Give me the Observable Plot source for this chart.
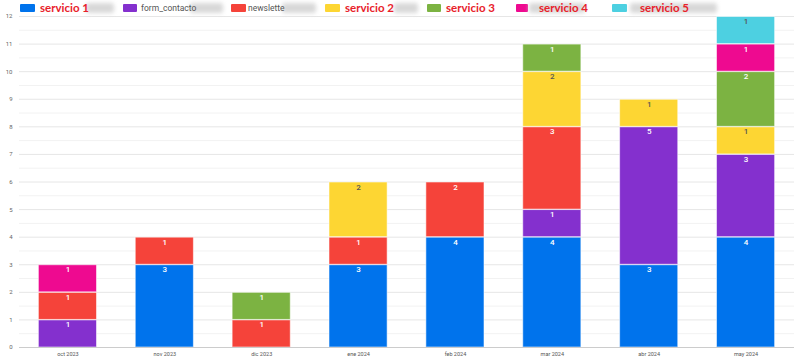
<!DOCTYPE html>
<html>
<head>
<meta charset="utf-8">
<script src="https://cdn.jsdelivr.net/npm/d3@7"></script>
<script src="https://cdn.jsdelivr.net/npm/@observablehq/plot@0.6"></script>
<style>
  html, body { margin: 0; padding: 0; background: #fff; }
  #wrap { position: relative; width: 799px; height: 364px; overflow: hidden; }
  #legend { position: absolute; left: 0; top: 0; width: 799px; height: 16px; }
  .sw { position: absolute; top: 4px; height: 8px; border-radius: 1px; }
  .blur { position: absolute; top: 3px; height: 10px; background: #d8d8d8; filter: blur(2px); border-radius: 3px; }
  .lbl-red { position: absolute; top: 0px; font-family: Lato, sans-serif; font-weight: 700; font-size: 11.5px; color: #e8212b; line-height: 16px; white-space: nowrap; }
  .lbl-grey { position: absolute; top: 1px; font-family: Roboto, sans-serif; font-size: 8.5px; color: #555; line-height: 14px; white-space: nowrap; }
</style>
</head>
<body>
<div id="wrap">
  <div id="chart"></div>
  <div id="legend"></div>
</div>
<script>
const months = ["oct 2023", "nov 2023", "dic 2023", "ene 2024", "feb 2024", "mar 2024", "abr 2024", "may 2024"];
const seriesNames = ["servicio 1", "form_contacto", "newsletter", "servicio 2", "servicio 3", "servicio 4", "servicio 5"];
const seriesColors = ["#0073ec", "#8430ce", "#f5433a", "#fdd633", "#7cb342", "#ee0a90", "#4dd0e1"];
const labelColors = ["#ffffff", "#ffffff", "#ffffff", "#555555", "#ffffff", "#ffffff", "#555555"];
// values per series, one per month
const servicio1    = [0, 3, 0, 3, 4, 4, 3, 4];
const formContacto = [1, 0, 0, 0, 0, 1, 5, 3];
const newsletter   = [1, 1, 1, 1, 2, 3, 0, 0];
const servicio2    = [0, 0, 0, 2, 0, 2, 1, 1];
const servicio3    = [0, 0, 1, 0, 0, 1, 0, 2];
const servicio4    = [1, 0, 0, 0, 0, 0, 0, 1];
const servicio5    = [0, 0, 0, 0, 0, 0, 0, 1];
const yTicks = [0,1,2,3,4,5,6,7,8,9,10,11,12];

const allSeries = [servicio1, formContacto, newsletter, servicio2, servicio3, servicio4, servicio5];
const data = [];
allSeries.forEach((vals, si) => {
  vals.forEach((v, mi) => {
    if (v > 0) data.push({month: months[mi], series: seriesNames[si], value: v});
  });
});
const labelColorOf = Object.fromEntries(seriesNames.map((s, i) => [s, labelColors[i]]));

const halfTicks = d3.range(0, 12.01, 0.5).filter(v => v % 1 !== 0);

const chart = Plot.plot({
  width: 799,
  height: 364,
  marginTop: 16,
  marginBottom: 17,
  marginLeft: 19,
  marginRight: 5,
  style: {fontFamily: "Roboto, sans-serif", background: "#fff"},
  x: {domain: months, paddingInner: 0.4, paddingOuter: 0.2, round: false, label: null, tickSize: 0},
  y: {domain: [0, 12], label: null, ticks: yTicks},
  color: {domain: seriesNames, range: seriesColors},
  marks: [
    Plot.ruleY(halfTicks, {stroke: "#f2f2f2", strokeWidth: 1}),
    Plot.ruleY(yTicks.filter(v => v > 0), {stroke: "#e6e6e6", strokeWidth: 1}),
    Plot.axisY({ticks: yTicks, tickSize: 0, tickPadding: 7, fontSize: 6, fill: "#666", tickFormat: d => d}),
    Plot.axisX({tickSize: 0, tickPadding: 5, fontSize: 5.5, fill: "#555"}),
    Plot.barY(data, Plot.stackY({x: "month", y: "value", z: "series", fill: "series", order: seriesNames, stroke: "#ffffff", strokeOpacity: 0.55, strokeWidth: 1, insetTop: 0.5})),
    Plot.ruleY([0], {stroke: "#cccccc", strokeWidth: 1}),
    Plot.text(data, Plot.stackY2({x: "month", y: "value", z: "series", order: seriesNames, text: "value", fill: d => labelColorOf[d.series], dy: 5, fontSize: 8, fontWeight: 500}))
  ]
});
document.getElementById("chart").appendChild(chart);

// legend
const legend = document.getElementById("legend");
const items = [
  {sw: [20, 15], color: seriesColors[0], red: ["servicio 1", 40], blur: [86, 28]},
  {sw: [123, 14], color: seriesColors[1], grey: ["form_contacto", 141], blur: [190, 33]},
  {sw: [231, 15], color: seriesColors[2], grey: ["newslette", 248], blur: [282, 34]},
  {sw: [325, 15], color: seriesColors[3], red: ["servicio 2", 345], blur: [394, 24]},
  {sw: [427, 14], color: seriesColors[4], red: ["servicio 3", 446]},
  {sw: [516, 12], color: seriesColors[5], blur: [529, 56], red: ["servicio 4", 539]},
  {sw: [612, 15], color: seriesColors[6], blur: [630, 87], red: ["servicio 5", 640]}
];
items.forEach(it => {
  const s = document.createElement("div");
  s.className = "sw";
  s.style.left = it.sw[0] + "px";
  s.style.width = it.sw[1] + "px";
  s.style.background = it.color;
  legend.appendChild(s);
  if (it.blur) {
    const b = document.createElement("div");
    b.className = "blur";
    b.style.left = it.blur[0] + "px";
    b.style.width = it.blur[1] + "px";
    legend.appendChild(b);
  }
  if (it.red) {
    const t = document.createElement("div");
    t.className = "lbl-red";
    t.style.left = it.red[1] + "px";
    t.textContent = it.red[0];
    legend.appendChild(t);
  }
  if (it.grey) {
    const t = document.createElement("div");
    t.className = "lbl-grey";
    t.style.left = it.grey[1] + "px";
    t.textContent = it.grey[0];
    legend.appendChild(t);
  }
});
</script>
</body>
</html>
